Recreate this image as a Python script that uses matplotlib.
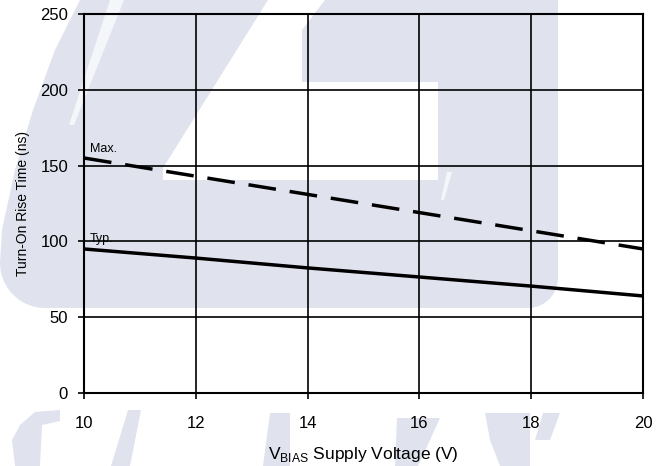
import numpy as np
import matplotlib
matplotlib.use('Agg')
import matplotlib.pyplot as plt
from matplotlib.patches import Polygon

plt.rcParams['font.family'] = ['Liberation Sans', 'DejaVu Sans']
plt.rcParams['mathtext.fontset'] = 'custom'
plt.rcParams['mathtext.rm'] = 'Liberation Sans'

# Turn-on rise time vs. bias supply voltage
v_bias = [10, 12, 14, 16, 18, 20]
rise_max = [155, 143, 131, 119, 107, 95]
rise_typ = [95, 89, 82.5, 76.5, 70.5, 64]

x_ticks = [10, 12, 14, 16, 18, 20]
y_ticks = [0, 50, 100, 150, 200, 250]

shade = '#e0e3ee'

fig = plt.figure(figsize=(6.65, 4.66), dpi=100)

# background logo, drawn in pixel units
bg = fig.add_axes([0, 0, 1, 1], zorder=0)
bg.set_xlim(0, 665)
bg.set_ylim(466, 0)
bg.axis('off')


def arc(cx, cy, r, a0, a1, n=12):
    t = np.radians(np.linspace(a0, a1, n))
    return list(zip(cx + r * np.cos(t), cy + r * np.sin(t)))


outline = [(80, 0), (558, 0), (558, 280)]
outline += arc(528, 278, 30, 0, 90)
outline += [(45, 308)]
outline += arc(45, 263, 45, 90, 180)
outline += [(2, 230), (15, 170), (33, 110), (55, 50)]
bg.add_patch(Polygon(outline, closed=True, fc=shade, ec='none'))

cutout = [(268, 0), (325, 0), (302, 30), (302, 82), (438, 82),
          (438, 180), (163, 180), (163, 168)]
bg.add_patch(Polygon(cutout, closed=True, fc='white', ec='none'))

for streak in ([(110, 0), (124, 0), (74, 125), (69, 125)],
               [(447, 172), (452, 172), (444, 200), (441, 200)]):
    bg.add_patch(Polygon(streak, closed=True, fc='white', ec='none', alpha=0.7))

letters = [
    [(20, 425), (35, 412), (60, 410), (60, 421), (42, 425), (40, 466), (15, 466), (12, 440)],
    [(128, 410), (141, 410), (130, 466), (111, 466)],
    [(270, 413), (290, 413), (290, 466), (263, 466)],
    [(397, 418), (440, 418), (430, 440), (418, 466), (395, 466)],
    [(485, 413), (530, 413), (530, 466), (500, 466), (490, 440)],
    [(543, 413), (560, 413), (550, 440), (535, 440)],
]
for pts in letters:
    bg.add_patch(Polygon(pts, closed=True, fc=shade, ec='none'))

ax = fig.add_axes([0.1263, 0.1567, 0.8406, 0.8133], zorder=1)
ax.patch.set_alpha(0)

ax.plot(v_bias, rise_max, color='black', lw=2.5, ls=(0, (8, 4)), zorder=3)
ax.plot(v_bias, rise_typ, color='black', lw=2.5, zorder=3)

ax.text(10.1, 159, 'Max.', fontsize=9, ha='left', va='baseline')
ax.text(10.1, 99.5, 'Typ.', fontsize=9, ha='left', va='baseline')

ax.set_xlim(10, 20)
ax.set_ylim(0, 250)
ax.set_xticks(x_ticks)
ax.set_yticks(y_ticks)
ax.grid(True, color='black', lw=1.2)
ax.set_axisbelow(True)
for s in ax.spines.values():
    s.set_linewidth(1.5)
ax.tick_params(axis='both', direction='out', length=4, width=1.2, labelsize=12)
ax.tick_params(axis='y', pad=7.5)
ax.tick_params(axis='x', pad=12.5)

ax.set_xlabel(r'V$_{\mathrm{BIAS}}$ Supply Voltage (V)', fontsize=12.5, labelpad=10)
ax.set_ylabel('Turn-On Rise Time (ns)', fontsize=10, labelpad=7)

fig.savefig('out.png', dpi=100)
